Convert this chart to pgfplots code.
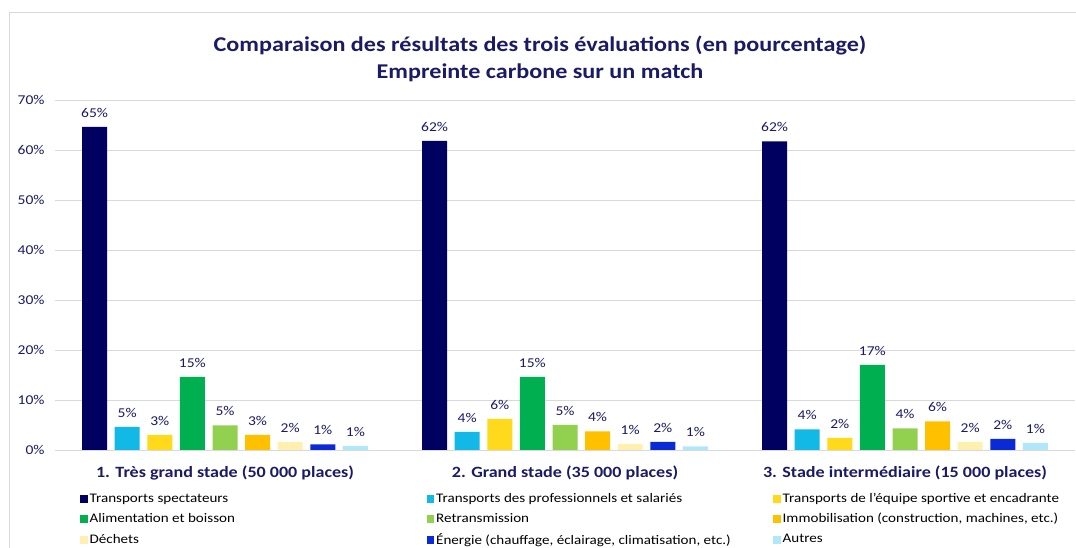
\documentclass[border=0pt]{standalone}
\usepackage{pgfplots}
\pgfplotsset{compat=1.18}
\usepackage{fontspec}
\setmainfont{Carlito}[FakeStretch=1.15]
\definecolor{cA}{HTML}{000060}
\definecolor{cB}{HTML}{12B8E6}
\definecolor{cC}{HTML}{FFD91C}
\definecolor{cD}{HTML}{00B050}
\definecolor{cE}{HTML}{92D050}
\definecolor{cF}{HTML}{FFC000}
\definecolor{cG}{HTML}{FFF0B0}
\definecolor{cH}{HTML}{0A2AD6}
\definecolor{cI}{HTML}{B0E8FA}
\definecolor{navytxt}{HTML}{1A1A66}
\definecolor{gridgray}{HTML}{D9D9D9}
\newcommand{\legtxt}[1]{\makebox[335pt][l]{#1}}
\pgfplotsset{
  /pgfplots/ybar legend/.style={/pgfplots/legend image code/.code={\fill[##1] (0pt,-4pt) rectangle (7.5pt,4pt);}},
}
\begin{document}
\begin{tikzpicture}[x=1pt,y=1pt]
\path[use as bounding box] (0,0) rectangle (1076,548);
\draw[gridgray, line width=0.9pt] (9,-2) -- (9,535.5) -- (1078,535.5);
\begin{axis}[
  at={(55pt,98pt)}, anchor=south west,
  scale only axis, width=1020pt, height=350pt,
  ybar=7.6pt, bar width=25pt,
  xmin=-0.5, xmax=2.5, ymin=0, ymax=70,
  xtick={0,1,2},
  xticklabels={1. Très grand stade (50 000 places),2. Grand stade (35 000 places),3. Stade intermédiaire (15 000 places)},
  xticklabel style={font=\fontsize{15.7}{19}\selectfont\bfseries, text=navytxt, yshift=-12pt},
  ytick={0,10,...,70},
  yticklabel={\pgfmathprintnumber{\tick}\%},
  yticklabel style={font=\fontsize{13.5}{16}\selectfont, text=navytxt, xshift=-7pt},
  /pgf/number format/assume math mode=true,
  major tick length=0pt,
  ymajorgrids, grid style={draw=gridgray, line width=0.8pt},
  axis x line*=bottom, axis y line*=left,
  y axis line style={draw=none},
  x axis line style={draw=gridgray, line width=0.8pt},
  nodes near coords={\pgfmathprintnumber[fixed,precision=0]{\pgfplotspointmeta}\%},
  every node near coord/.append style={font=\fontsize{13.5}{15}\selectfont, text=navytxt, yshift=6pt},
  every axis plot post/.append style={legend image code/.code={\fill[#1] (0pt,-4pt) rectangle (7.5pt,4pt);}},
  legend columns=3,
  legend style={at={(0.0245,-0.118)}, anchor=north west, draw=none, fill=none,
    font=\fontsize{13.1}{15}\selectfont, row sep=5pt, inner sep=0pt,
    /tikz/every even column/.append style={column sep=0pt}},
  legend cell align=left,
]
\addplot[fill=cA, draw=none] coordinates {(0,64.6) (1,61.8) (2,61.7)};
\addlegendentry{\legtxt{Transports spectateurs}}
\addplot[fill=cB, draw=none] coordinates {(0,4.6) (1,3.6) (2,4.1)};
\addlegendentry{\legtxt{Transports des professionnels et salariés}}
\addplot[fill=cC, draw=none] coordinates {(0,3.0) (1,6.2) (2,2.4)};
\addlegendentry{\legtxt{Transports de l'équipe sportive et encadrante}}
\addplot[fill=cD, draw=none] coordinates {(0,14.6) (1,14.6) (2,17.0)};
\addlegendentry{\legtxt{Alimentation et boisson}}
\addplot[fill=cE, draw=none] coordinates {(0,4.9) (1,5.0) (2,4.3)};
\addlegendentry{\legtxt{Retransmission}}
\addplot[fill=cF, draw=none] coordinates {(0,3.0) (1,3.7) (2,5.7)};
\addlegendentry{\legtxt{Immobilisation (construction, machines, etc.)}}
\addplot[fill=cG, draw=none] coordinates {(0,1.6) (1,1.2) (2,1.6)};
\addlegendentry{\legtxt{Déchets}}
\addplot[fill=cH, draw=none] coordinates {(0,1.1) (1,1.6) (2,2.2)};
\addlegendentry{\legtxt{Énergie (chauffage, éclairage, climatisation, etc.)}}
\addplot[fill=cI, draw=none] coordinates {(0,0.8) (1,0.7) (2,1.4)};
\addlegendentry{\legtxt{Autres}}
\end{axis}
\node[font=\fontsize{21}{27}\selectfont\bfseries, text=navytxt, align=center] at (540,489)
  {Comparaison des résultats des trois évaluations (en pourcentage)\\Empreinte carbone sur un match};
\end{tikzpicture}
\end{document}
